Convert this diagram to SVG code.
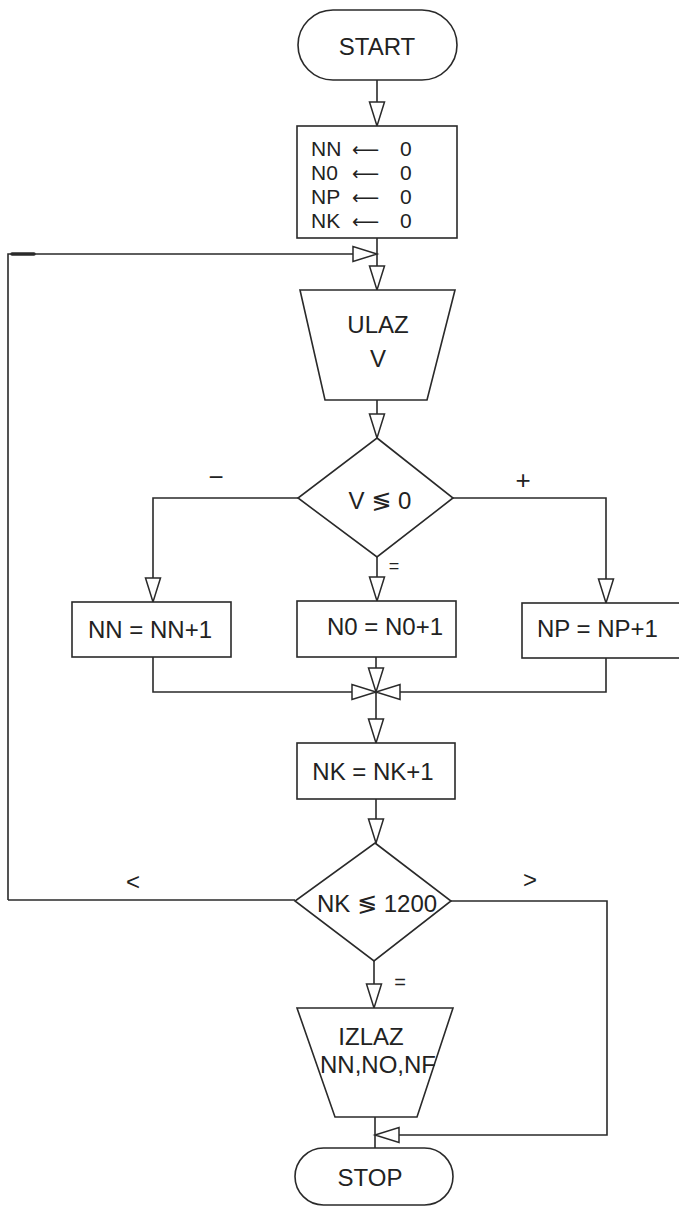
<svg xmlns="http://www.w3.org/2000/svg" xmlns:xlink="http://www.w3.org/1999/xlink" width="679" height="1206" viewBox="0 0 679 1206">
<style>
.s{fill:#fff;stroke:#2a2a2a;stroke-width:1.6}
.l{fill:none;stroke:#2a2a2a;stroke-width:1.6}
.ah{fill:#fff;stroke:#2a2a2a;stroke-width:1.5;stroke-linejoin:miter}
text{font-family:"Liberation Sans","DejaVu Sans",sans-serif;fill:#222}
.t{font-size:24px;text-anchor:middle}
.sym{font-family:"DejaVu Sans","Liberation Sans",sans-serif}
</style>
<defs>
<polygon id="ad" class="ah" points="-7.5,-24 7.5,-24 0,0"/>
</defs>
<rect width="679" height="1206" fill="#fff"/>
<g id="connectors">
<path class="l" d="M377,80 V126"/>
<path class="l" d="M377,238 V290"/>
<path class="l" d="M8,900 V254 H377"/>
<path d="M12,254 H34" stroke="#2a2a2a" stroke-width="3.5" stroke-linecap="round"/>
<path class="l" d="M377,400 V438"/>
<path class="l" d="M298,498 H153 V602"/>
<path class="l" d="M377,557 V600"/>
<path class="l" d="M453,498 H606 V603"/>
<path class="l" d="M153,657 V692 H606 V658"/>
<path class="l" d="M376,657 V743"/>
<path class="l" d="M376,799 V843"/>
<path class="l" d="M295,900 H8"/>
<path class="l" d="M451,901 H607 V1135 H375"/>
<path class="l" d="M374,961 V1008"/>
<path class="l" d="M375,1117 V1148"/>
<use xlink:href="#ad" x="377" y="126"/>
<use xlink:href="#ad" x="377" y="290"/>
<use xlink:href="#ad" transform="translate(377,254) rotate(-90)"/>
<use xlink:href="#ad" x="377" y="438"/>
<use xlink:href="#ad" x="153" y="602"/>
<use xlink:href="#ad" x="377" y="601"/>
<use xlink:href="#ad" x="606" y="603"/>
<use xlink:href="#ad" x="376" y="692"/>
<use xlink:href="#ad" transform="translate(376,692) rotate(-90)"/>
<use xlink:href="#ad" transform="translate(376,692) rotate(90)"/>
<use xlink:href="#ad" x="376" y="743"/>
<use xlink:href="#ad" x="376" y="843"/>
<use xlink:href="#ad" x="374" y="1008"/>
<use xlink:href="#ad" transform="translate(375,1135) rotate(90)"/>
<text x="216" y="486" font-size="26" text-anchor="middle">−</text>
<text x="523" y="489" font-size="26" text-anchor="middle">+</text>
<text x="394" y="572" font-size="18" text-anchor="middle">=</text>
<text x="133" y="890" font-size="24" text-anchor="middle">&lt;</text>
<text x="530" y="888" font-size="24" text-anchor="middle">&gt;</text>
<text x="400" y="989" font-size="20" text-anchor="middle">=</text>
</g>
<g id="start">
<rect class="s" x="298" y="10" width="159" height="70" rx="35"/>
<text class="t" x="377" y="55" font-size="29">START</text>
</g>
<g id="init">
<rect class="s" x="297" y="126" width="160" height="112"/>
<text font-size="21"><tspan x="311" y="156">NN</tspan><tspan class="sym" x="352" font-size="19">⟵</tspan><tspan x="400">0</tspan></text>
<text font-size="21"><tspan x="311" y="180">N0</tspan><tspan class="sym" x="352" font-size="19">⟵</tspan><tspan x="400">0</tspan></text>
<text font-size="21"><tspan x="311" y="204">NP</tspan><tspan class="sym" x="352" font-size="19">⟵</tspan><tspan x="400">0</tspan></text>
<text font-size="21"><tspan x="311" y="228">NK</tspan><tspan class="sym" x="352" font-size="19">⟵</tspan><tspan x="400">0</tspan></text>
</g>
<g id="ulaz">
<polygon class="s" points="300,290 455,290 427,400 325,400"/>
<text class="t" x="378" y="333" font-size="22">ULAZ</text>
<text class="t" x="378" y="367" font-size="26">V</text>
</g>
<g id="dec1">
<polygon class="s" points="377,438 453,498 377,557 298,498"/>
<text class="t" x="380" y="509" font-size="26">V <tspan class="sym">≶</tspan> 0</text>
</g>
<g id="nn">
<rect class="s" x="72" y="602" width="159" height="55"/>
<text class="t" x="150" y="638" font-size="24">NN = NN+1</text>
</g>
<g id="n0">
<rect class="s" x="297" y="601" width="159" height="56"/>
<text class="t" x="385" y="635" font-size="24">N0 = N0+1</text>
</g>
<g id="np">
<rect class="s" x="522" y="603" width="160" height="55"/>
<text x="537" y="637" font-size="24">NP = NP+1</text>
</g>
<g id="nk">
<rect class="s" x="297" y="743" width="158" height="56"/>
<text class="t" x="373" y="780" font-size="24">NK = NK+1</text>
</g>
<g id="dec2">
<polygon class="s" points="375,843 451,901 374,961 295,901"/>
<text class="t" x="377" y="912" font-size="22">NK <tspan class="sym">≶</tspan> 1200</text>
</g>
<g id="izlaz">
<polygon class="s" points="297,1008 453,1008 417,1117 335,1117"/>
<text class="t" x="371" y="1045" font-size="23">IZLAZ</text>
<text class="t" x="378" y="1073" font-size="22">NN,NO,NF</text>
</g>
<g id="stop">
<rect class="s" x="295" y="1148" width="158" height="57" rx="28.5"/>
<text class="t" x="370" y="1186" font-size="24">STOP</text>
</g>
</svg>
